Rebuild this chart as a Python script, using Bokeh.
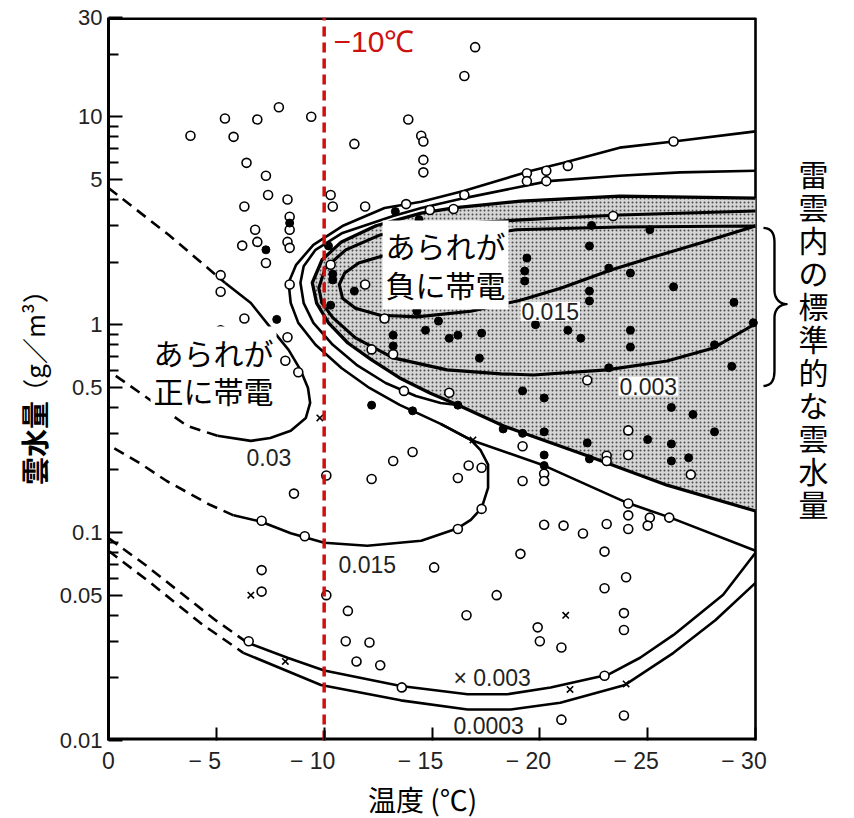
import math
from bokeh.plotting import figure
from bokeh.layouts import row, column
from bokeh.models import (Range1d, FixedTicker, NumeralTickFormatter, Label)
from bokeh.embed import file_html
from bokeh.resources import INLINE

JP = "Noto Sans CJK JP"
NUM = "Liberation Sans"

# ---------------------------------------------------------------
# Observations: temperature (deg C) and cloud water content (g/m3)
# ---------------------------------------------------------------
open_t = [-3.8, -5.4, -5.8, -6.9, -7.9, -9.4, -6.4, -7.3, -7.4, -8.3, -6.3, -8.4, -8.4, -6.8,
          -6.9, -8.3, -8.4, -6.2, -7.3, -5.2, -5.2, -8.4, -6.3, -5.2, -8.3, -8.2, -8.8,
          -10.3, -10.4, -11.4, -11.9, -13.9, -14.5, -14.6, -14.6, -14.6, -13.8, -14.9,
          -10.3, -11.9, -12.8, -12.2, -13.2, -13.7, -17.0, -16.5, -26.2, -19.4, -19.4,
          -20.3, -20.3, -21.3, -16.5, -16.0, -23.4, -22.2, -15.8, -24.1, -24.1, -23.1,
          -23.1, -27.0, -20.2, -20.2, -19.2, -19.2, -16.7, -17.3, -16.2, -17.3, -16.2,
          -24.1, -24.1, -24.1, -25.1, -25.0, -26.0, -20.2, -21.1, -22.0, -23.1, -23.0,
          -19.1, -15.1, -24.0, -23.0, -18.0, -16.6, -23.9, -23.9, -19.9, -20.0, -21.0,
          -23.0, -21.0, -23.9, -10.1, -8.6, -7.1, -9.1, -12.2, -13.2, -14.1, -7.1, -7.1,
          -10.1, -11.1, -11.0, -12.1, -11.5, -12.6, -13.6, -6.5]
open_w = [8.1, 9.8, 8.0, 9.7, 11.1, 10.0, 6.0, 5.2, 4.2, 4.0, 3.7, 3.3, 2.86, 2.86,
          2.5, 2.5, 2.34, 2.4, 1.98, 1.73, 1.44, 1.56, 1.07, 0.94, 0.87, 0.67, 0.59,
          4.2, 3.7, 7.4, 3.7, 9.7, 8.1, 7.6, 6.2, 5.4, 3.8, 3.56,
          1.94, 1.56, 1.07, 0.76, 0.72, 0.48, 21.6, 15.7, 7.6, 5.35, 4.9,
          5.5, 4.9, 5.8, 4.2, 3.6, 3.33, 0.54, 0.47, 0.31, 0.236, 0.234,
          0.221, 0.19, 0.192, 0.177, 0.26, 0.177, 0.21, 0.205, 0.183, 0.13, 0.104,
          0.138, 0.121, 0.104, 0.118, 0.108, 0.118, 0.109, 0.108, 0.099, 0.11, 0.081,
          0.079, 0.068, 0.061, 0.054, 0.050, 0.040, 0.041, 0.034, 0.035, 0.030, 0.028,
          0.0205, 0.0126, 0.0132, 0.188, 0.154, 0.114, 0.096, 0.181, 0.221, 0.244, 0.066, 0.052,
          0.050, 0.042, 0.030, 0.0296, 0.024, 0.023, 0.018, 0.030]

solid_t = [-7.3, -7.8, -12.2, -14.1, -8.4, -25.1, -22.4, -22.3, -19.4, -19.3, -19.3,
           -22.3, -22.3, -23.2, -24.2, -26.2, -29.0, -29.9, -19.8, -21.3, -21.9, -24.2,
           -24.2, -28.1, -28.9, -23.2, -17.3, -17.2, -15.3, -14.7, -15.8, -16.2, -19.2,
           -20.2, -26.1, -27.1, -28.1, -25.0, -26.1, -26.1, -26.9, -22.2, -22.3, -20.2,
           -20.2, -20.2, -18.3, -19.2, -16.2, -13.3, -14.4, -10.4, -10.4, -10.3, -11.4,
           -14.3, -13.2, -13.2, -10.2]
solid_w = [2.29, 1.06, 0.41, 0.385, 3.08, 2.86, 3.0, 2.39, 2.09, 1.81, 1.62,
           1.45, 1.30, 1.87, 1.77, 1.52, 1.28, 1.02, 1.0, 0.94, 0.86, 0.94,
           0.78, 0.80, 0.63, 0.62, 0.91, 0.69, 1.04, 0.94, 0.86, 0.89, 0.48,
           0.444, 0.40, 0.37, 0.305, 0.28, 0.267, 0.221, 0.229, 0.27, 0.226, 0.305,
           0.236, 0.21, 0.315, 0.30, 0.41, 3.5, 3.2, 1.75, 1.64, 1.24, 1.45,
           1.16, 0.89, 0.79, 2.39]

cross_t = [-9.8, -6.6, -8.2, -21.2, -21.4, -24.0, -16.9]
cross_w = [0.356, 0.050, 0.024, 0.040, 0.0176, 0.0187, 0.279]

# ---------------------------------------------------------------
# Charge contours (temperature, cloud water)
# ---------------------------------------------------------------
# +0.015 contour: upper branch round the nose, loop near -17 C, down to the left edge
pos015_t = [-30.0, -26.2, -23.7, -21.1, -19.6, -16.5, -14.5, -12.8, -10.9, -9.5, -8.7,
            -8.35, -8.45, -8.8, -9.6, -10.8, -12.1, -13.5, -15.4, -16.8, -17.25, -17.6,
            -17.6, -17.3, -16.8, -16.2, -14.5, -12.0, -10.0, -8.45, -7.05, -5.8]
pos015_w = [8.5, 7.6, 7.1, 6.0, 5.5, 4.4, 3.9, 3.64, 3.0, 2.42, 1.94,
            1.59, 1.27, 1.02, 0.80, 0.619, 0.496, 0.411, 0.333, 0.279, 0.249, 0.212,
            0.164, 0.131, 0.115, 0.105, 0.0913, 0.0864, 0.0893, 0.0993, 0.113, 0.121]
pos015_dash_t = [-5.8, -4.7, -2.7, -1.5, 0.0]
pos015_dash_w = [0.121, 0.136, 0.177, 0.214, 0.264]

upper_b_t = [-30.0, -26.5, -23.7, -20.4, -16.5, -14.5, -13.2, -10.85, -9.6, -9.05, -8.9,
             -9.05, -9.5, -10.4, -11.5, -12.85, -14.25, -15.4, -16.2]
upper_b_w = [5.5, 5.4, 5.2, 4.9, 4.06, 3.64, 3.33, 2.76, 2.29, 1.91, 1.59,
             1.27, 1.02, 0.80, 0.641, 0.524, 0.454, 0.42, 0.411]

# charge reversal line (boundary of the negative-charging region)
zero_t = [-30.0, -23.7, -19.1, -16.0, -14.5, -12.4, -10.8, -9.9, -9.45, -9.65, -10.2,
          -11.1, -12.2, -13.5, -14.9, -16.2, -18.3, -19.2, -22.2, -25.9, -30.0]
zero_w = [4.06, 4.15, 3.93, 3.64, 3.44, 2.99, 2.50, 2.05, 1.59, 1.27, 1.02,
          0.816, 0.677, 0.554, 0.469, 0.411, 0.326, 0.302, 0.234, 0.169, 0.127]

neg003_t = [-30.0, -23.7, -19.1, -14.5, -12.6, -11.0, -10.05, -9.75, -9.9, -10.4, -11.45,
            -13.2, -15.7, -18.2, -19.7, -23.1, -25.9, -28.05, -30.0]
neg003_w = [3.52, 3.37, 3.19, 2.99, 2.70, 2.29, 1.87, 1.50, 1.27, 1.08, 0.863,
            0.692, 0.606, 0.58, 0.573, 0.606, 0.669, 0.773, 1.01]

neg015_t = [-30.0, -23.7, -18.9, -15.9, -12.7, -11.6, -10.95, -10.7, -10.85, -11.45, -12.6,
            -14.3, -16.8, -19.1, -21.0, -23.3, -25.1, -27.45, -30.0]
neg015_w = [2.98, 2.95, 2.86, 2.55, 2.14, 1.98, 1.77, 1.56, 1.34, 1.20, 1.11,
            1.09, 1.16, 1.31, 1.50, 1.83, 2.09, 2.47, 2.98]

pos03_t = [-5.4, -6.6, -7.65, -8.35, -8.9, -9.25, -9.35, -9.15, -8.45, -7.5, -6.6, -5.05]
pos03_w = [1.59, 1.27, 0.928, 0.756, 0.606, 0.496, 0.42, 0.356, 0.309, 0.285, 0.276, 0.292]
pos03_dash_up_t = [0.0, -2.8, -5.4]
pos03_dash_up_w = [4.54, 2.70, 1.59]
pos03_dash_lo_t = [-5.05, -3.65, -1.8, 0.0]
pos03_dash_lo_w = [0.292, 0.326, 0.444, 0.60]

pos003_t = [-6.45, -8.3, -10.0, -13.55, -16.65, -18.5, -20.5, -23.15, -24.65, -26.2, -28.5, -30.0]
pos003_w = [0.0295, 0.025, 0.0217, 0.0183, 0.0167, 0.0167, 0.018, 0.0207, 0.025, 0.0322, 0.0502, 0.080]
pos003_dash_t = [0.0, -1.7, -3.35, -4.95, -6.45]
pos003_dash_w = [0.094, 0.070, 0.0513, 0.038, 0.0295]
pos003_top_t = [-15.4, -16.8, -20.2, -24.05, -26.05, -30.0]
pos003_top_w = [0.333, 0.279, 0.21, 0.139, 0.118, 0.0817]

pos0003_t = [-6.25, -9.85, -13.55, -16.65, -18.65, -20.95, -23.95, -26.2, -28.15, -30.0]
pos0003_w = [0.0264, 0.0185, 0.0156, 0.0141, 0.0141, 0.0152, 0.0185, 0.0264, 0.038, 0.0573]
pos0003_dash_t = [0.0, -1.95, -4.25, -6.25]
pos0003_dash_w = [0.0817, 0.0573, 0.0368, 0.0264]

# axis ticks
x_ticks = [0, -5, -10, -15, -20, -25, -30]
x_tick_labels = ["0", "− 5\u2003", "− 10\u2003", "− 15\u2003", "− 20\u2003", "− 25\u2003", "− 30\u2003"]
y_ticks = [0.01, 0.05, 0.1, 0.5, 1, 5, 10, 30]
y_minor = [0.02, 0.03, 0.04, 0.06, 0.07, 0.08, 0.09, 0.2, 0.3, 0.4, 0.6, 0.7, 0.8, 0.9,
           2, 3, 4, 6, 7, 8, 9, 20]

T_MIN, T_MAX = -30, 0
W_MIN, W_MAX = 0.01, 30

# ---------------------------------------------------------------
# Main panel. The frame runs on past -30 C so that the note on the
# right can be drawn; the box edges are drawn by hand at -30 C.
# ---------------------------------------------------------------
MAIN_W, MAIN_H, LEFT_W, BOTTOM_H = 800, 776, 54, 42
FRAME_L, FRAME_T, FRAME_B = 54, 17, 34
px_per_deg = 647 / 30.0
x_far = -(MAIN_W - FRAME_L) / px_per_deg

y_rng = Range1d(W_MIN, W_MAX)
p = figure(width=MAIN_W, height=MAIN_H, x_range=Range1d(T_MAX, x_far), y_range=y_rng,
           y_axis_type="log", output_backend="svg", toolbar_location=None,
           min_border_left=FRAME_L, min_border_right=0, min_border_top=FRAME_T,
           min_border_bottom=FRAME_B)
p.xgrid.visible = False
p.ygrid.visible = False
p.background_fill_color = "white"
p.border_fill_color = "white"
p.outline_line_color = None

for ax in (p.xaxis[0], p.yaxis[0]):
    ax.axis_line_width = 3
    ax.axis_line_color = "black"
    ax.major_tick_line_width = 2
    ax.major_tick_line_color = "black"
    ax.major_tick_out = 0
    ax.major_label_text_font = NUM
    ax.major_label_text_color = "#222222"

p.xaxis.axis_line_color = None
p.xaxis.ticker = FixedTicker(ticks=x_ticks)
p.xaxis.major_label_overrides = dict(zip(x_ticks, x_tick_labels))
p.xaxis.major_tick_in = 13
p.xaxis.minor_tick_line_color = None
p.xaxis.major_label_standoff = 7
p.xaxis.major_label_text_font_size = "23px"

p.yaxis.ticker = FixedTicker(ticks=y_ticks, minor_ticks=y_minor)
p.yaxis.formatter = NumeralTickFormatter(format="0.[00]")
p.yaxis.major_tick_in = 14
p.yaxis.minor_tick_in = 10
p.yaxis.minor_tick_out = 0
p.yaxis.minor_tick_line_width = 2
p.yaxis.minor_tick_line_color = "black"
p.yaxis.major_label_standoff = 6
p.yaxis.major_label_text_font_size = "22px"

# box edges: bottom, top, right
p.line([T_MAX, T_MIN], [W_MIN, W_MIN], line_color="black", line_width=6)
p.line([T_MAX, T_MIN], [W_MAX, W_MAX], line_color="black", line_width=5)
p.line([T_MIN, T_MIN], [W_MIN, W_MAX], line_color="black", line_width=2.6)

# shaded negative-charging region
p.patch(zero_t, zero_w, fill_color="#d6d6d6", line_color=None,
        hatch_pattern="dot", hatch_color="#4a4a4a", hatch_scale=4, hatch_weight=1.3)

LW = 2.6
DASH = "11 7"
for t, w, lw in [(pos015_t, pos015_w, LW), (upper_b_t, upper_b_w, LW),
                 (zero_t, zero_w, 3.3), (neg003_t, neg003_w, 3.1), (neg015_t, neg015_w, 3.1),
                 (pos03_t, pos03_w, LW), (pos003_t, pos003_w, LW),
                 (pos003_top_t, pos003_top_w, LW), (pos0003_t, pos0003_w, LW)]:
    p.line(t, w, line_color="black", line_width=lw, line_join="round")

for t, w in [(pos015_dash_t, pos015_dash_w), (pos03_dash_up_t, pos03_dash_up_w),
             (pos03_dash_lo_t, pos03_dash_lo_w), (pos003_dash_t, pos003_dash_w),
             (pos0003_dash_t, pos0003_dash_w)]:
    p.line(t, w, line_color="black", line_width=LW, line_dash=DASH)

# observations
p.scatter(open_t, open_w, marker="circle", size=9, fill_color="white",
          line_color="black", line_width=1.6)
p.scatter(solid_t, solid_w, marker="circle", size=8, fill_color="black",
          line_color="black", line_width=1)
p.scatter(cross_t, cross_w, marker="x", size=9, line_color="black", line_width=1.6)

# -10 C reference line
p.line([-10, -10], [W_MIN, W_MAX], line_color="#cc1111", line_width=3.5, line_dash="10 6")
p.add_layout(Label(x=-10.43, y=22.9, text="−10℃", text_font=NUM, text_font_size="30px",
                   text_color="#cc1111", text_baseline="middle", text_align="left"))

# contour values
def contour_label(x, y, text, bg=None):
    p.add_layout(Label(x=x, y=y, text=text, text_font=NUM, text_font_size="23px",
                       text_color="#222222", text_baseline="middle", text_align="left",
                       background_fill_color=bg, padding=1))

contour_label(-6.35, 0.229, "0.03")
contour_label(-10.62, 0.070, "0.015")
contour_label(-15.95, 0.020, "× 0.003")
contour_label(-15.95, 0.0118, "0.0003")
contour_label(-19.1, 1.16, "0.015", "white")
contour_label(-23.65, 0.505, "0.003", "white")

# region annotations
for x, y, txt in [(-15.63, 1.94, "あられが\n負に帯電"), (-4.87, 0.599, "あられが\n正に帯電")]:
    p.add_layout(Label(x=x, y=y, text=txt, text_font=JP, text_font_size="30px",
                       text_color="black", text_align="center", text_baseline="middle",
                       text_line_height=0.88, background_fill_color="white", padding=3))

# brace and note for the typical cloud water range in thunderclouds
def cubic(a, b, c, d, n=14):
    out = []
    for i in range(n + 1):
        s = i / n
        k0, k1, k2, k3 = (1 - s) ** 3, 3 * (1 - s) ** 2 * s, 3 * (1 - s) * s ** 2, s ** 3
        out.append((k0 * a[0] + k1 * b[0] + k2 * c[0] + k3 * d[0],
                    k0 * a[1] + k1 * b[1] + k2 * c[1] + k3 * d[1]))
    return out

lg = math.log10
path = []
path += cubic((-30.37, lg(2.92)), (-30.75, lg(2.90)), (-30.88, lg(2.75)), (-30.88, lg(2.47)))
path += cubic((-30.88, lg(1.47)), (-30.88, lg(1.32)), (-31.15, lg(1.26)), (-31.44, lg(1.255)))
path += cubic((-31.44, lg(1.255)), (-31.15, lg(1.25)), (-30.88, lg(1.19)), (-30.88, lg(1.08)))
path += cubic((-30.88, lg(0.606)), (-30.88, lg(0.54)), (-30.75, lg(0.51)), (-30.37, lg(0.507)))
p.line([q[0] for q in path], [10 ** q[1] for q in path], line_color="black",
       line_width=2.4, line_join="round")

p.add_layout(Label(x=-32.69, y=6.85, text="\n".join("雷雲内の標準的な雲水量"),
                   text_font=JP, text_font_size="30px", text_color="black",
                   text_align="center", text_baseline="top", text_line_height=0.75))

# ---------------------------------------------------------------
# Left strip: y-axis title
# ---------------------------------------------------------------
lf = figure(width=LEFT_W, height=MAIN_H, x_range=Range1d(0, LEFT_W), y_range=y_rng,
            y_axis_type="log", x_axis_location=None, y_axis_location=None,
            output_backend="svg", toolbar_location=None,
            min_border_left=0, min_border_right=0, min_border_top=FRAME_T,
            min_border_bottom=FRAME_B)
lf.outline_line_color = None
lf.xgrid.visible = False
lf.ygrid.visible = False
lf.add_layout(Label(x=33, y=0.27, text="雲水量", angle=math.pi / 2, text_font=JP,
                    text_font_size="28px", text_font_style="bold", text_color="black",
                    text_align="center", text_baseline="middle"))
lf.add_layout(Label(x=33, y=0.835, text="（g／m³）", angle=math.pi / 2, text_font=JP,
                    text_font_size="26px", text_color="black",
                    text_align="center", text_baseline="middle"))

# ---------------------------------------------------------------
# Bottom strip: x-axis title
# ---------------------------------------------------------------
bf = figure(width=LEFT_W + MAIN_W, height=BOTTOM_H, x_range=Range1d(0, LEFT_W + MAIN_W),
            y_range=Range1d(0, BOTTOM_H), x_axis_location=None, y_axis_location=None,
            output_backend="svg", toolbar_location=None,
            min_border_left=0, min_border_right=0, min_border_top=0, min_border_bottom=0)
bf.outline_line_color = None
bf.xgrid.visible = False
bf.ygrid.visible = False
bf.add_layout(Label(x=422, y=20, text="温度 (℃)", text_font=JP, text_font_size="28px",
                    text_color="black", text_align="center", text_baseline="middle"))

layout = column(row(lf, p, spacing=0), bf, spacing=0)
open("out.html", "w").write(file_html(layout, INLINE))
